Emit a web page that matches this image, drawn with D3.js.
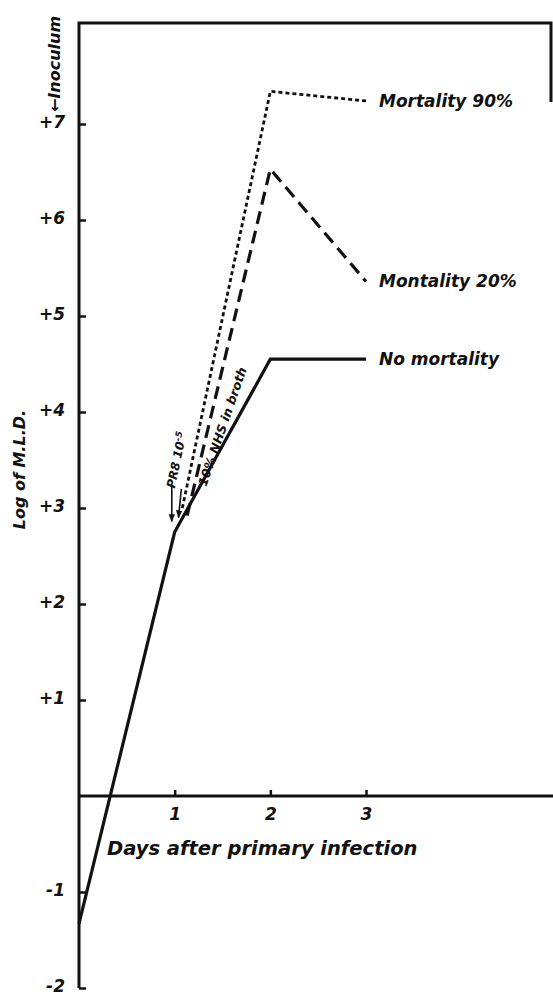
<!DOCTYPE html>
<html>
<head>
<meta charset="utf-8">
<script src="https://cdn.jsdelivr.net/npm/d3@7"></script>
<style>
  body { margin: 0; background: #fff; }
  text { font-family: "DejaVu Sans", sans-serif; font-style: italic; font-weight: bold; fill: #111; }
</style>
</head>
<body>
<div class="vis-chart"></div>
<script>
// tick values / labels
const yTicks = [-2, -1, 1, 2, 3, 4, 5, 6, 7];
const yTickLabels = ["-2", "-1", "+1", "+2", "+3", "+4", "+5", "+6", "+7"];
const xTicks = [1, 2, 3];
const xTickLabels = ["1", "2", "3"];

// series (days, log of M.L.D.)
const noMortDays = [0, 1, 2, 3];
const noMortLog = [-1.33, 2.75, 4.55, 4.55];
const mort20Days = [1.13, 2, 3];
const mort20Log = [2.92, 6.53, 5.36];
const mort90Days = [1.08, 2, 3];
const mort90Log = [3.0, 7.34, 7.24];

const seriesNames = ["No mortality", "Montality 20%", "Mortality 90%"];

const W = 553, H = 996;

const draw = () => {
    d3.select(".vis-chart > *").remove();

    let svg = d3.select(".vis-chart")
                .append("svg")
                .attr("width", W)
                .attr("height", H);

    let xScale = d3.scaleLinear().domain([0, 3]).range([79, 366]);
    let yScale = d3.scaleLinear().domain([-2, 7]).range([988, 124]);

    const ink = "#111";

    // frame: left axis, top line, short right edge
    let frameTop = 23, frameRight = 551;
    svg.append("path")
        .attr("d", "M" + xScale(0) + "," + yScale(-2) + "V" + frameTop + "H" + frameRight + "V102")
        .attr("fill", "none").attr("stroke", ink).attr("stroke-width", 3);

    // x axis line across to the edge
    svg.append("line")
        .attr("x1", xScale(0)).attr("x2", W)
        .attr("y1", yScale(0)).attr("y2", yScale(0))
        .attr("stroke", ink).attr("stroke-width", 3);

    // y ticks (inside) + labels
    let yAxis = svg.append("g")
        .attr("transform", "translate(" + xScale(0) + ",0)")
        .call(d3.axisLeft(yScale).tickValues(yTicks).tickSize(-7).tickPadding(14)
              .tickFormat((d, i) => yTickLabels[i]));
    yAxis.select(".domain").remove();
    yAxis.selectAll("line").attr("stroke", ink).attr("stroke-width", 2.5);
    yAxis.selectAll("text").attr("font-size", 17).attr("fill", ink).attr("dy", "0.2em")
        .style("font-family", "DejaVu Sans").style("font-style", "italic").style("font-weight", "bold");

    // x ticks (upward) + labels below
    let xAxis = svg.append("g")
        .attr("transform", "translate(0," + yScale(0) + ")")
        .call(d3.axisBottom(xScale).tickValues(xTicks).tickSize(-6).tickPadding(12)
              .tickFormat((d, i) => xTickLabels[i]));
    xAxis.select(".domain").remove();
    xAxis.selectAll("line").attr("stroke", ink).attr("stroke-width", 2.5);
    xAxis.selectAll("text").attr("font-size", 17).attr("fill", ink)
        .style("font-family", "DejaVu Sans").style("font-style", "italic").style("font-weight", "bold");

    // lines
    let line = d3.line()
                .x(d => xScale(d[0]))
                .y(d => yScale(d[1]));

    const series = [
        {name: seriesNames[0], pts: d3.zip(noMortDays, noMortLog), dash: null, w: 3.2},
        {name: seriesNames[1], pts: d3.zip(mort20Days, mort20Log), dash: "13,7", w: 3.2},
        {name: seriesNames[2], pts: d3.zip(mort90Days, mort90Log), dash: "4,3", w: 2.8}
    ];

    svg.selectAll(".series")
        .data(series)
        .enter().append("path")
        .attr("class", "series")
        .attr("d", d => line(d.pts))
        .attr("fill", "none")
        .attr("stroke", ink)
        .attr("stroke-width", d => d.w)
        .attr("stroke-dasharray", d => d.dash)
        .attr("stroke-linejoin", "miter");

    // end labels
    svg.selectAll(".endlabel")
        .data(series)
        .enter().append("text")
        .attr("class", "endlabel")
        .attr("x", d => xScale(d.pts[d.pts.length - 1][0]) + 13)
        .attr("y", d => yScale(d.pts[d.pts.length - 1][1]))
        .attr("dy", "0.35em")
        .attr("font-size", 17)
        .text(d => d.name);

    // axis titles
    svg.append("text")
        .attr("x", 107).attr("y", yScale(0) + 59)
        .attr("font-size", 19.5)
        .text("Days after primary infection");

    svg.append("text")
        .attr("transform", "translate(19," + yScale(3.4) + ") rotate(-90)")
        .attr("text-anchor", "middle")
        .attr("dominant-baseline", "central")
        .attr("font-size", 16)
        .text("Log of M.L.D.");

    svg.append("text")
        .attr("transform", "translate(54," + (yScale(7) - 12) + ") rotate(-90)")
        .attr("dominant-baseline", "central")
        .attr("font-size", 16)
        .text("\u2190Inoculum");

    // inoculation notes near day 1
    svg.append("text")
        .attr("transform", "translate(" + xScale(1.0) + "," + yScale(3.2) + ") rotate(-78)")
        .attr("font-size", 12)
        .text("PR8 10")
        .append("tspan").attr("dy", -4).attr("font-size", 9).text("-5");

    svg.append("text")
        .attr("transform", "translate(" + xScale(1.33) + "," + yScale(3.22) + ") rotate(-71)")
        .attr("font-size", 12.5)
        .text("10% NHS in broth");

    // little down-arrows marking the inoculation
    const arrows = [[0.97, 3.22, 0.97, 2.86], [1.07, 3.2, 1.04, 2.9]];
    svg.append("defs").append("marker")
        .attr("id", "ah").attr("viewBox", "0 0 10 10")
        .attr("refX", 9).attr("refY", 5)
        .attr("markerWidth", 5).attr("markerHeight", 5)
        .attr("orient", "auto")
        .append("path").attr("d", "M0,1L10,5L0,9z").attr("fill", ink);

    svg.selectAll(".arrow")
        .data(arrows)
        .enter().append("line")
        .attr("class", "arrow")
        .attr("x1", d => xScale(d[0])).attr("y1", d => yScale(d[1]))
        .attr("x2", d => xScale(d[2])).attr("y2", d => yScale(d[3]))
        .attr("stroke", ink).attr("stroke-width", 1.6)
        .attr("marker-end", "url(#ah)");
}

draw();
</script>
</body>
</html>
